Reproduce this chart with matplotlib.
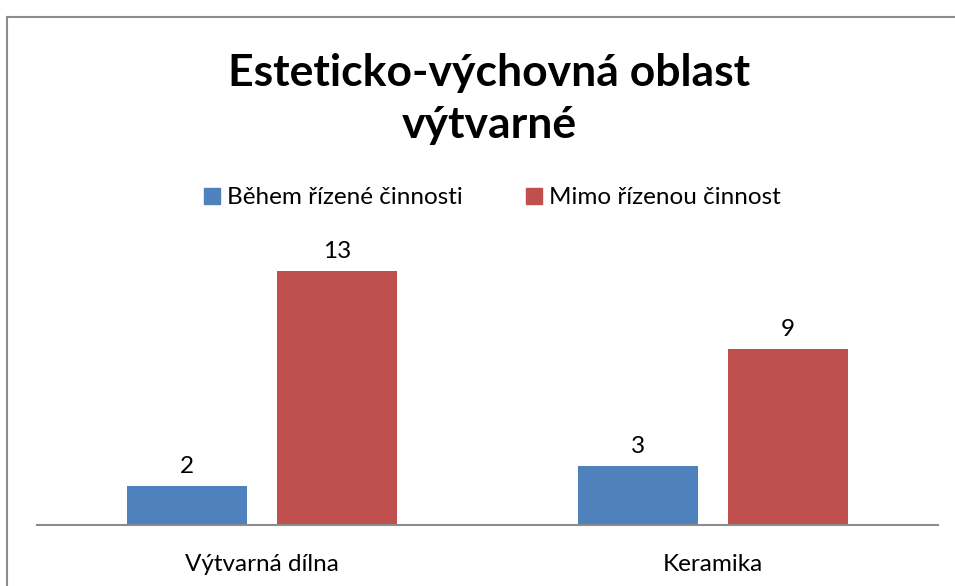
import numpy as np
import matplotlib.pyplot as plt
from matplotlib.lines import Line2D
from matplotlib.patches import Patch

categories = ['Výtvarná dílna', 'Keramika']
series_names = ['Během řízené činnosti', 'Mimo řízenou činnost']
beh_rizene = [2, 3]
mimo_rizenou = [13, 9]
colors = ['#4F81BD', '#C0504D']

plt.rcParams['font.family'] = ['Lato', 'DejaVu Sans']

W, H = 955, 586
fig = plt.figure(figsize=(W / 100, H / 100), dpi=100)

# chart frame (only top and left edges are visible in the crop)
fig.add_artist(Line2D([7 / W, 7 / W], [0, 1 - 16.5 / H], color='#8c8c8c', lw=1.5,
                      transform=fig.transFigure))
fig.add_artist(Line2D([7 / W, 1], [1 - 16.5 / H, 1 - 16.5 / H], color='#8c8c8c', lw=1.5,
                      transform=fig.transFigure))

ax = fig.add_axes([37 / W, (H - 525) / H, (938 - 37) / W, (525 - 251) / H])

pos = np.arange(len(categories))
width = 0.2664
off = 0.1665
b1 = ax.bar(pos - off, beh_rizene, width, color=colors[0])
b2 = ax.bar(pos + off, mimo_rizenou, width, color=colors[1])

for bars, vals in ((b1, beh_rizene), (b2, mimo_rizenou)):
    for b, v in zip(bars, vals):
        ax.text(b.get_x() + b.get_width() / 2, v + 0.45, str(v),
                ha='center', va='bottom', fontsize=17.5, color='black')

ax.set_xlim(-0.5, 1.5)
ax.set_ylim(0, 14)
ax.set_yticks([])
ax.set_xticks(pos)
ax.set_xticklabels(categories, fontsize=17.5)
ax.tick_params(axis='x', length=0, pad=21)
for s in ['top', 'right', 'left']:
    ax.spines[s].set_visible(False)
ax.spines['bottom'].set_color('#8c8c8c')
ax.spines['bottom'].set_linewidth(1.5)

fig.text(0.512, 1 - 99 / H, 'Esteticko-výchovná oblast\nvýtvarné', ha='center', va='center',
         fontsize=32, fontweight='bold', linespacing=1.35)

handles = [Patch(color=c) for c in colors]
fig.legend(handles, series_names, loc='center', bbox_to_anchor=(0.516, 1 - 198 / H),
           ncol=2, frameon=False, fontsize=17.5, handlelength=0.65, handleheight=0.65,
           handletextpad=0.3, columnspacing=2.6)

fig.savefig('out.png', dpi=100)
